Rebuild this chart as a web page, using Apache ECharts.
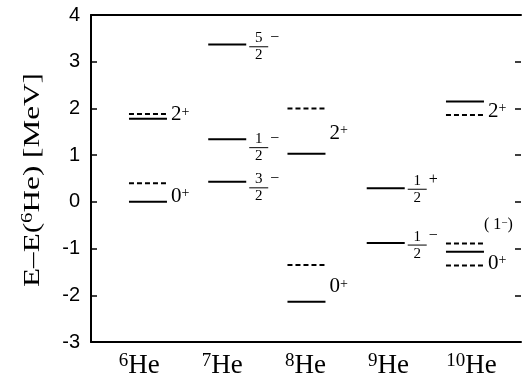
<!DOCTYPE html>
<html>
<head>
<meta charset="utf-8">
<script src="https://cdn.jsdelivr.net/npm/echarts@6/dist/echarts.min.js"></script>
<style>
  html, body { margin: 0; padding: 0; background: #fff; }
  #chart { width: 522px; height: 377px; }
</style>
</head>
<body>
<div id="chart"></div>
<script>
// mass numbers of the He isotopes along the x axis
const massNumbers = ['6', '7', '8', '9', '10'];
// y axis ticks (MeV)
const yTicks = [-3, -2, -1, 0, 1, 2, 3, 4];

// level energies E - E(6He) in MeV, one list per isotope
const solidLevels = [
  [0, 1.78],           // 6He
  [0.43, 1.34, 3.37],  // 7He
  [-2.14, 1.03],       // 8He
  [-0.88, 0.29],       // 9He
  [-1.07, 2.15]        // 10He
];
const dashedLevels = [
  [0.4, 1.88],
  [],
  [-1.35, 2.0],
  [],
  [-1.36, -0.89, 1.86]
];
// spin-parity labels: isotope index, energy the label sits at, text
const labelIsotope = [0, 0, 1, 1, 1, 2, 2, 3, 3, 4, 4, 4];
const labelEnergy = [1.86, 0.12, 3.32, 1.16, 0.30, 1.47, -1.82, 0.27, -0.925, 1.94, -0.50, -1.31];
const labelText = ['2+', '0+', '5/2-', '1/2-', '3/2-', '2+', '0+', '1/2+', '1/2-', '2+', '(1-)', '0+'];

const SERIF = '"Liberation Serif", "DejaVu Serif", serif';
const HALF = 19; // half length of a level line, px

const levelData = [];
solidLevels.forEach((list, i) => list.forEach(e => levelData.push([i + 1, e, 0])));
dashedLevels.forEach((list, i) => list.forEach(e => levelData.push([i + 1, e, 1])));

const labelData = labelText.map((t, k) => [labelIsotope[k] + 1, labelEnergy[k], k]);
const nameData = massNumbers.map((m, i) => [i + 1, yTicks[0], i]);

function sign(ch) {
  return ch === '-' ? '\u2212' : '+';
}

function renderLevel(params, api) {
  const p = api.coord([api.value(0), api.value(1)]);
  return {
    type: 'line',
    shape: { x1: p[0] - HALF, y1: p[1], x2: p[0] + HALF, y2: p[1] },
    style: {
      stroke: '#000',
      lineWidth: 2,
      lineDash: api.value(2) ? [5, 3] : null
    }
  };
}

function renderLabel(params, api) {
  const p = api.coord([api.value(0), api.value(1)]);
  const t = labelText[api.value(2)];
  const x0 = p[0] + HALF + 4;
  const y = p[1];

  if (t.indexOf('/') > 0) {
    // fraction with parity sign
    const num = t[0], den = t[2], s = sign(t[3]);
    const bx = x0 - 1, bw = 19;
    return {
      type: 'group',
      children: [
        { type: 'line', shape: { x1: bx, y1: y, x2: bx + bw, y2: y }, style: { stroke: '#000', lineWidth: 1 } },
        { type: 'text', x: bx + bw / 2, y: y - 1,
          style: { text: num, font: '15px ' + SERIF, fill: '#000', align: 'center', verticalAlign: 'bottom' } },
        { type: 'text', x: bx + bw / 2, y: y + 1,
          style: { text: den, font: '15px ' + SERIF, fill: '#000', align: 'center', verticalAlign: 'top' } },
        { type: 'text', x: bx + bw + 2, y: y - 9,
          style: { text: s, font: '16px ' + SERIF, fill: '#000', align: 'left', verticalAlign: 'middle' } }
      ]
    };
  }
  if (t[0] === '(') {
    return {
      type: 'text', x: x0 - 4, y: y,
      style: {
        text: '{n|( 1}{s|' + sign(t[2]) + '}{n|)}',
        align: 'left', verticalAlign: 'middle',
        rich: {
          n: { font: '16px ' + SERIF, fill: '#000', lineHeight: 16 },
          s: { font: '11px ' + SERIF, fill: '#000', verticalAlign: 'top', lineHeight: 16 }
        }
      }
    };
  }
  return {
    type: 'text', x: x0, y: y,
    style: {
      text: '{n|' + t[0] + '}{s|' + sign(t[1]) + '}',
      align: 'left', verticalAlign: 'middle',
      rich: {
        n: { font: '21px ' + SERIF, fill: '#000', lineHeight: 20 },
        s: { font: '14px ' + SERIF, fill: '#000', verticalAlign: 'top', lineHeight: 20 }
      }
    }
  };
}

function renderName(params, api) {
  const i = api.value(2);
  const p = api.coord([api.value(0), api.value(1)]);
  const dx = -1.1 + 3.85 * (i - 2);
  return {
    type: 'text', x: p[0] + dx, y: p[1] + 24,
    style: {
      text: '{s|' + massNumbers[i] + '}{h|He}',
      align: 'center', verticalAlign: 'middle',
      rich: {
        s: { font: '19px ' + SERIF, fill: '#000', verticalAlign: 'top', lineHeight: 28 },
        h: { font: '27px ' + SERIF, fill: '#000', lineHeight: 28 }
      }
    }
  };
}

const chart = echarts.init(document.getElementById('chart'), null, { renderer: 'canvas' });

const option = {
  animation: false,
  backgroundColor: '#fff',
  grid: { left: 91, right: 1, top: 15, bottom: 35, containLabel: false, outerBoundsMode: 'none' },
  xAxis: [
    {
      type: 'value', min: 0.281, max: 5.707, position: 'bottom',
      axisLine: { show: true, onZero: false, lineStyle: { color: '#000', width: 2 } },
      axisTick: { show: false }, axisLabel: { show: false }, splitLine: { show: false }
    },
    {
      type: 'value', min: 0.281, max: 5.707, position: 'top',
      axisLine: { show: true, onZero: false, lineStyle: { color: '#000', width: 2 } },
      axisTick: { show: false }, axisLabel: { show: false }, splitLine: { show: false }
    }
  ],
  yAxis: [
    {
      type: 'value', min: yTicks[0], max: yTicks[yTicks.length - 1], interval: 1, position: 'left',
      axisLine: { show: true, onZero: false, lineStyle: { color: '#000', width: 2 } },
      axisTick: { show: true, inside: true, length: 6, lineStyle: { color: '#000', width: 1.5 } },
      axisLabel: { color: '#000', fontSize: 20, fontFamily: 'Liberation Sans', margin: 11 },
      splitLine: { show: false }
    },
    {
      type: 'value', min: yTicks[0], max: yTicks[yTicks.length - 1], interval: 1, position: 'right',
      axisLine: { show: false },
      axisTick: { show: true, inside: true, length: 6, lineStyle: { color: '#000', width: 1.5 } },
      axisLabel: { show: false }, splitLine: { show: false }
    }
  ],
  graphic: [
    {
      type: 'text', x: 33, y: 180, rotation: Math.PI / 2, scaleX: 1.3,
      style: {
        text: '{n|E\u2013E(}{s|6}{n|He) [MeV]}',
        align: 'center', verticalAlign: 'middle',
        rich: {
          n: { font: '24px ' + SERIF, fill: '#000', lineHeight: 26 },
          s: { font: '16px ' + SERIF, fill: '#000', verticalAlign: 'top', lineHeight: 26 }
        }
      }
    }
  ],
  series: [
    { type: 'custom', name: 'levels', clip: false, renderItem: renderLevel, data: levelData },
    { type: 'custom', name: 'labels', clip: false, renderItem: renderLabel, data: labelData },
    { type: 'custom', name: 'names', clip: false, renderItem: renderName, data: nameData }
  ]
};

chart.setOption(option);
</script>
</body>
</html>
